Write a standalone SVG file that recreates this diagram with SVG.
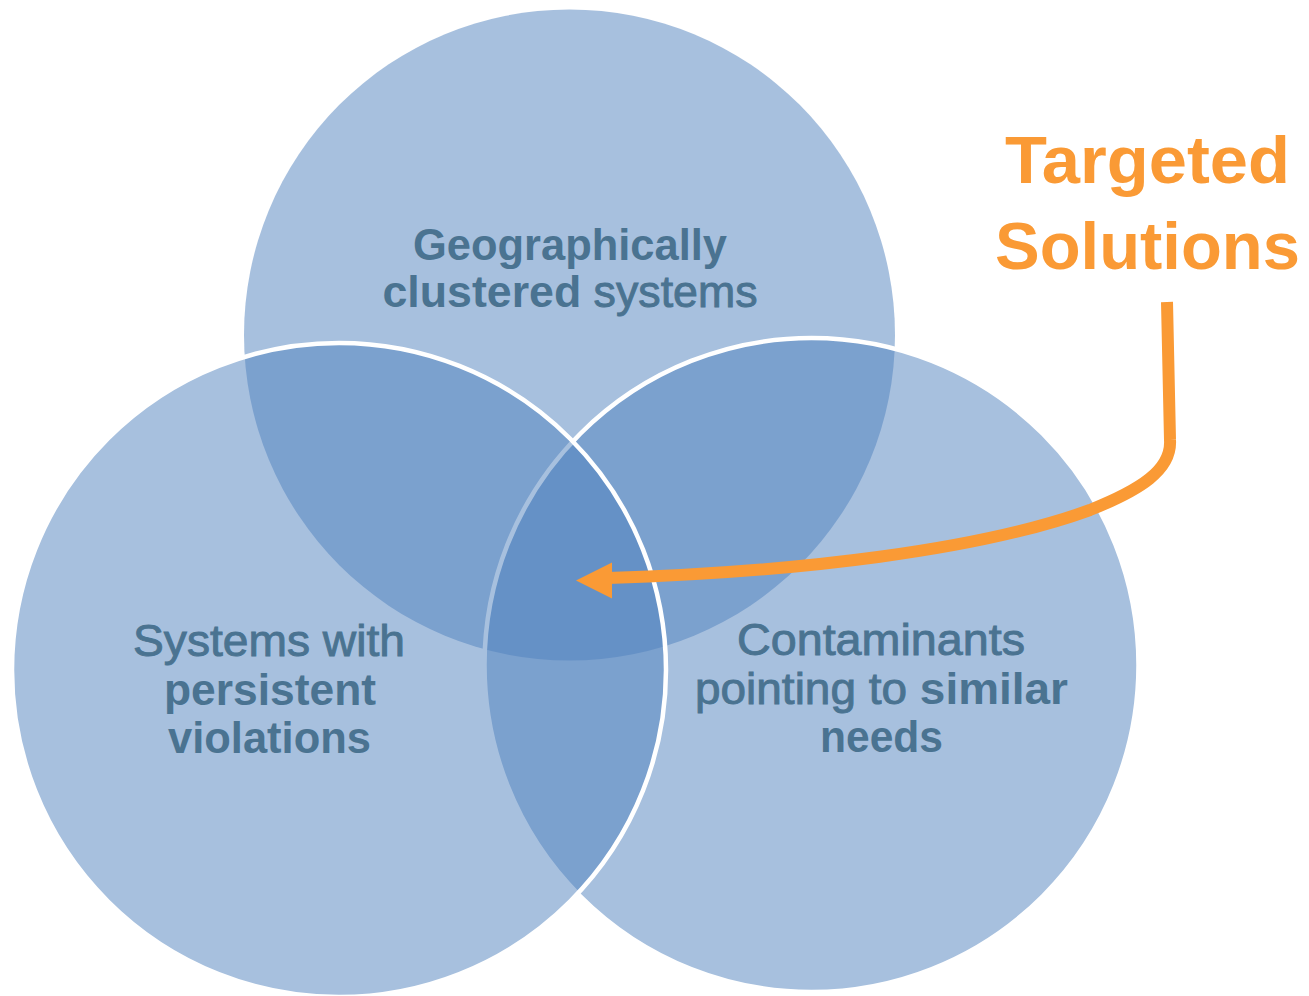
<svg xmlns="http://www.w3.org/2000/svg" width="1309" height="996" viewBox="0 0 1309 996">
  <style>
    .circ { fill: #4F81BD; fill-opacity: 0.5; }
    .outlined { stroke: #ffffff; stroke-width: 4.5; }
    .lbl { font-family: "Liberation Sans", Arial, sans-serif; font-size: 44px; fill: #4a7391; text-anchor: middle; }
    .b { font-weight: bold; }
    .m { font-weight: normal; stroke: #4a7391; stroke-width: 0.9; }
    .big { font-family: "Liberation Sans", Arial, sans-serif; font-size: 67px; font-weight: bold; fill: #FA9A35; text-anchor: middle; }
    .conn { fill: none; stroke: #FA9A35; stroke-width: 12; }
  </style>
  <rect width="1309" height="996" fill="#ffffff"/>
  <g id="node-geographic">
    <circle class="circ" cx="569.5" cy="335" r="325.5"/>
    <text class="lbl b" x="570" y="260" textLength="314" lengthAdjust="spacingAndGlyphs">Geographically</text>
    <text class="lbl" x="570" y="307" textLength="375" lengthAdjust="spacingAndGlyphs"><tspan class="b">clustered</tspan> <tspan class="m">systems</tspan></text>
  </g>
  <g id="node-contaminants">
    <circle class="circ outlined" cx="811.5" cy="665" r="327"/>
    <text class="lbl m" x="881" y="655" textLength="288" lengthAdjust="spacingAndGlyphs">Contaminants</text>
    <text class="lbl" x="881.5" y="704" textLength="373" lengthAdjust="spacingAndGlyphs"><tspan class="m">pointing to</tspan> <tspan class="b">similar</tspan></text>
    <text class="lbl b" x="881.5" y="752" textLength="123" lengthAdjust="spacingAndGlyphs">needs</text>
  </g>
  <g id="node-persistent">
    <circle class="circ outlined" cx="339" cy="670" r="327"/>
    <text class="lbl m" x="269" y="656" textLength="272" lengthAdjust="spacingAndGlyphs">Systems with</text>
    <text class="lbl b" x="270" y="705" textLength="212" lengthAdjust="spacingAndGlyphs">persistent</text>
    <text class="lbl b" x="269.5" y="753" textLength="203" lengthAdjust="spacingAndGlyphs">violations</text>
  </g>
  <g id="node-targeted">
    <text class="big" x="1147.5" y="183" textLength="285" lengthAdjust="spacingAndGlyphs">Targeted</text>
    <text class="big" x="1147.5" y="269" textLength="305" lengthAdjust="spacingAndGlyphs">Solutions</text>
  </g>
  <g id="connectors">
    <path class="conn" d="M1167,302 L1170,440 C1172,470 1140,490 1090,510 C980,550 800,572 608,578"/>
    <polygon points="576,580.5 612,562.5 612,598.5" fill="#FA9A35"/>
  </g>
</svg>
